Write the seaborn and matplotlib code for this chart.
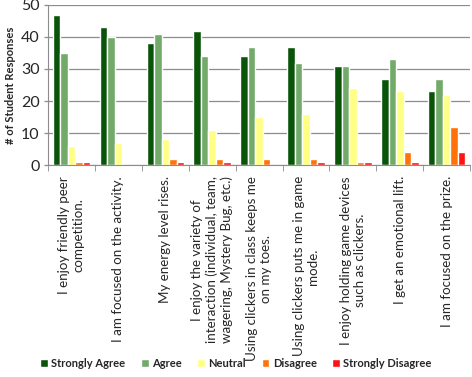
import matplotlib
matplotlib.use("Agg")
import matplotlib.pyplot as plt
import seaborn as sns
import pandas as pd

categories = [
    "I enjoy friendly peer\ncompetition.",
    "I am focused on the activity.",
    "My energy level rises.",
    "I enjoy the variety of\ninteraction (individual, team,\nwagering, Mystery Bug, etc.)",
    "Using clickers in class keeps me\non my toes.",
    "Using clickers puts me in game\nmode.",
    "I enjoy holding game devices\nsuch as clickers.",
    "I get an emotional lift.",
    "I am focused on the prize.",
]
series = ["Strongly Agree", "Agree", "Neutral", "Disagree", "Strongly Disagree"]
strongly_agree = [47, 43, 38, 42, 34, 37, 31, 27, 23]
agree = [35, 40, 41, 34, 37, 32, 31, 33, 27]
neutral = [6, 7, 8, 11, 15, 16, 24, 23, 22]
disagree = [1, 0, 2, 2, 2, 2, 1, 4, 12]
strongly_disagree = [1, 0, 1, 1, 0, 1, 1, 1, 4]
colors = ["#0a540a", "#72aa6a", "#ffff84", "#ff7208", "#ff1212"]

rows = []
for s, vals in zip(series, [strongly_agree, agree, neutral, disagree, strongly_disagree]):
    for c, v in zip(categories, vals):
        rows.append({"cat": c, "series": s, "value": v})
df = pd.DataFrame(rows)

sns.set_style("white")
plt.rcParams["font.family"] = ["Lato", "DejaVu Sans"]

fig = plt.figure(figsize=(4.72, 3.77), dpi=100)
ax = fig.add_axes([0.102, 0.562, 0.894, 0.425])
sns.barplot(data=df, x="cat", y="value", hue="series", order=categories,
            hue_order=series, palette=colors, width=0.8, saturation=1,
            ax=ax, legend=True)

ax.set_ylim(0, 50)
ax.set_yticks(range(0, 51, 10))
ax.set_xlim(-0.5, len(categories) - 0.5)
ax.grid(axis="y", color="#8c8c8c", linewidth=0.9)
ax.set_axisbelow(True)
for sp in ["top", "right"]:
    ax.spines[sp].set_visible(False)
for sp in ["left", "bottom"]:
    ax.spines[sp].set_color("#8c8c8c")
ax.set_ylabel("# of Student Responses", fontsize=8, fontweight="bold", labelpad=4)
ax.set_xlabel("")
ax.tick_params(axis="y", labelsize=11.5, length=3, width=0.9, color="#8c8c8c",
               pad=3, left=True)

ax.set_xticks(range(len(categories)))
ax.set_xticklabels(categories, rotation=90, fontsize=9.6, ha="center", va="top",
                   multialignment="center", linespacing=1.22)
ax.tick_params(axis="x", length=0, pad=8)
ax.set_xticks([i - 0.5 for i in range(len(categories) + 1)], minor=True)
ax.tick_params(axis="x", which="minor", length=4, color="#8c8c8c", bottom=True)

leg = ax.legend(loc="lower center", bbox_to_anchor=(0.5, -0.005),
                bbox_transform=fig.transFigure, ncol=5, frameon=False,
                fontsize=8, handlelength=0.7, handleheight=0.7,
                handletextpad=0.3, columnspacing=1.4)
for t in leg.get_texts():
    t.set_fontweight("bold")

fig.savefig("out.png", dpi=100)
